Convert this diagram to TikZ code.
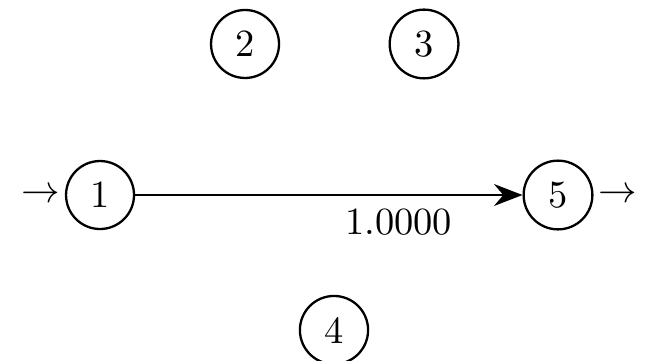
\documentclass[tikz,border=0pt]{standalone}
\usetikzlibrary{arrows.meta, positioning}

\begin{document}
\begin{tikzpicture}[
  state/.style={draw, circle, semithick},
  arrow/.style={-{Stealth[length=2.6mm, width=2mm]}, semithick},
  on grid
]
\useasboundingbox (-0.914,-1.508) rectangle (4.980,1.782);

% Nodes
\node[state] (n1) {1};
\node[state, right=4.185cm of n1] (n5) {5};
\node[state, above right=1.38cm and 1.325cm of n1] (n2) {2};
\node[state, right=1.636cm of n2] (n3) {3};
\node[state, below right=1.234cm and 2.138cm of n1] (n4) {4};

% Source and sink
\node[on grid=false, left=0pt of n1, inner sep=1pt] (in) {$\rightarrow$};
\node[on grid=false, right=0pt of n5, inner sep=1pt] (out) {$\rightarrow$};

% Edge with flow
\draw[arrow] (n1) -- node[pos=0.68, below] {1.0000} (n5);

\end{tikzpicture}
\end{document}
